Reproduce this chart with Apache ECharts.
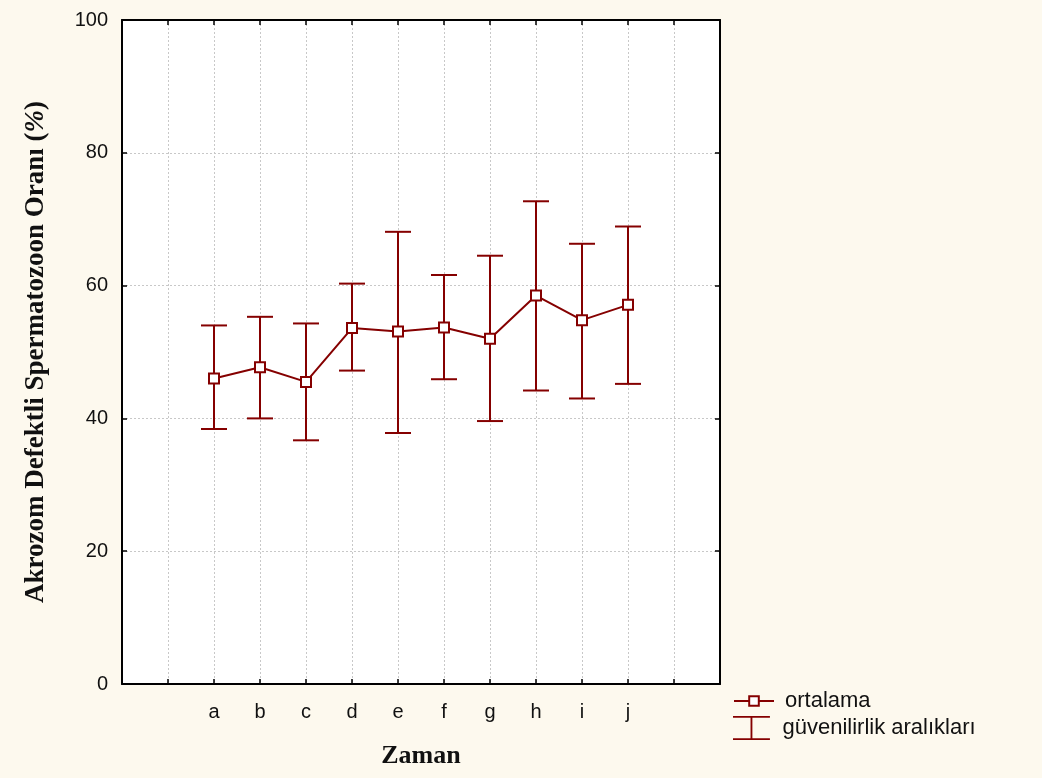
<!DOCTYPE html>
<html>
<head>
<meta charset="utf-8">
<script src="https://cdn.jsdelivr.net/npm/echarts@6/dist/echarts.min.js"></script>
<style>
  html, body { margin: 0; padding: 0; background: #fdf9ee; }
  #main { width: 1042px; height: 778px; }
</style>
</head>
<body>
<div id="main"></div>
<script>
// data
var categories = ["a", "b", "c", "d", "e", "f", "g", "h", "i", "j"];
var means = [46.0, 47.7, 45.5, 53.6, 53.1, 53.7, 52.0, 58.5, 54.8, 57.1];
var lower = [38.4, 40.0, 36.7, 47.2, 37.8, 45.9, 39.6, 44.2, 43.0, 45.2];
var upper = [54.0, 55.3, 54.3, 60.3, 68.1, 61.6, 64.5, 72.7, 66.3, 68.9];
var yTicks = [0, 20, 40, 60, 80, 100];

var red = "#850000";
var offset = 2; // first category sits on x = 2 (two empty slots each side)

var meanData = means.map(function (v, i) { return [i + offset, v]; });
var ciData = lower.map(function (v, i) { return [i + offset, v, upper[i]]; });

var labelFont = { fontFamily: "Liberation Sans", fontSize: 20, color: "#111" };
var legendFont = { fontFamily: "Liberation Sans", fontSize: 22, color: "#111", padding: [0, 0, 0, 6] };
var nameFont = { fontFamily: "Liberation Serif", fontWeight: "bold", color: "#111" };
var gridLine = { show: true, lineStyle: { color: "#c8c8c8", type: [2, 2], width: 1 } };
var axisLine = { show: true, onZero: false, lineStyle: { color: "#000", width: 2 } };
var tick = { show: true, inside: true, length: 5, lineStyle: { color: "#000", width: 1.5 } };

var myChart = echarts.init(document.getElementById("main"));

var option = {
  backgroundColor: "#fdf9ee",
  animation: false,
  grid: {
    left: 122, top: 20, right: 322, bottom: 94,
    show: true, backgroundColor: "#fff", borderWidth: 0
  },
  legend: [
    {
      data: ["ortalama"],
      left: 733, top: 690, padding: 0,
      itemWidth: 40, itemHeight: 12,
      textStyle: legendFont
    },
    {
      data: [{
        name: "güvenilirlik aralıkları",
        icon: "path://M0,0h40v2h-40z M19,2h2v22h-2z M0,24h40v2h-40z"
      }],
      left: 733, top: 716, padding: 0,
      itemWidth: 40, itemHeight: 24,
      textStyle: legendFont
    }
  ],
  xAxis: [
    {
      type: "value", min: 0, max: 13, interval: 1,
      name: "Zaman", nameLocation: "middle", nameGap: 59,
      nameTextStyle: Object.assign({ fontSize: 26 }, nameFont),
      axisLine: axisLine, axisTick: tick, splitLine: gridLine,
      axisLabel: Object.assign({
        margin: 18,
        formatter: function (v) { return categories[v - offset] || ""; }
      }, labelFont)
    },
    {
      type: "value", position: "top", min: 0, max: 13, interval: 1,
      axisLine: axisLine, axisTick: tick, splitLine: { show: false },
      axisLabel: { show: false }
    }
  ],
  yAxis: [
    {
      type: "value", min: yTicks[0], max: yTicks[yTicks.length - 1], interval: 20,
      name: "Akrozom Defektli Spermatozoon Oranı ({i|%})",
      nameLocation: "middle", nameGap: 72,
      nameTextStyle: Object.assign({
        fontSize: 27,
        rich: { i: { fontFamily: "Liberation Serif", fontStyle: "italic", fontSize: 27, color: "#111" } }
      }, nameFont),
      axisLine: axisLine, axisTick: tick, splitLine: gridLine,
      axisLabel: Object.assign({ margin: 14 }, labelFont)
    },
    {
      type: "value", position: "right", min: 0, max: 100, interval: 20,
      axisLine: axisLine, axisTick: tick, splitLine: { show: false },
      axisLabel: { show: false }
    }
  ],
  series: [
    {
      name: "güvenilirlik aralıkları",
      type: "custom",
      itemStyle: { color: red },
      data: ciData,
      z: 2,
      renderItem: function (params, api) {
        var x = api.value(0);
        var top = api.coord([x, api.value(2)]);
        var bot = api.coord([x, api.value(1)]);
        var w = 13;
        var st = { stroke: red, lineWidth: 2 };
        return {
          type: "group",
          children: [
            { type: "line", shape: { x1: top[0], y1: top[1], x2: bot[0], y2: bot[1] }, style: st },
            { type: "line", shape: { x1: top[0] - w, y1: top[1], x2: top[0] + w, y2: top[1] }, style: st },
            { type: "line", shape: { x1: bot[0] - w, y1: bot[1], x2: bot[0] + w, y2: bot[1] }, style: st }
          ]
        };
      }
    },
    {
      name: "ortalama",
      type: "line",
      data: meanData,
      z: 3,
      symbol: "rect",
      symbolSize: 10,
      lineStyle: { color: red, width: 2 },
      itemStyle: { color: "#fff", borderColor: red, borderWidth: 2 }
    }
  ]
};

option && myChart.setOption(option);
</script>
</body>
</html>
